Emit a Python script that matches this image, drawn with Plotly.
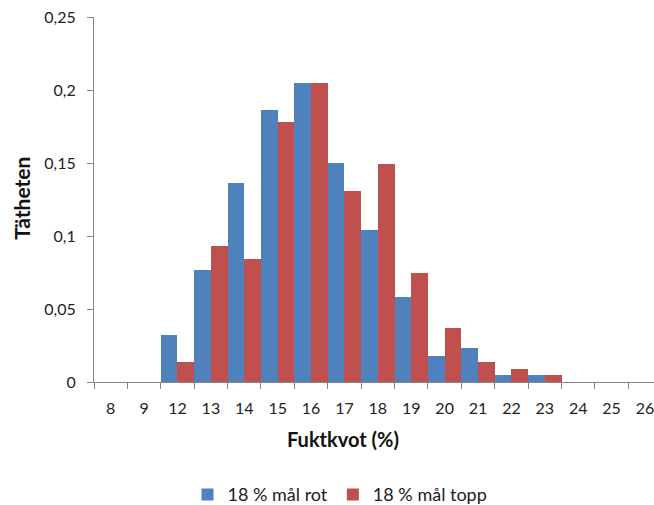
import plotly.graph_objects as go

# Moisture content classes (%) and density per class
categories = ["8", "9", "12", "13", "14", "15", "16", "17", "18",
              "19", "20", "21", "22", "23", "24", "25", "26"]
rot_values = [0, 0, 0.032, 0.077, 0.136, 0.186, 0.2045, 0.150, 0.104,
              0.058, 0.018, 0.023, 0.0045, 0.0045, 0, 0, 0]
topp_values = [0, 0, 0.014, 0.093, 0.084, 0.178, 0.205, 0.131, 0.1495,
               0.075, 0.037, 0.014, 0.009, 0.0045, 0, 0, 0]
y_ticks = [0, 0.05, 0.1, 0.15, 0.2, 0.25]
y_tick_text = ["0", "0,05", "0,1", "0,15", "0,2", "0,25"]

FONT = "Lato, 'Open Sans', sans-serif"
AXIS_GRAY = "#868686"

# Plot area in pixels: x from 94 to 654, y from 17 (0.25) to 382 (0)
PLOT_W = 560
PLOT_H = 365
Y0 = 382.3


def px_x(x):
    return (x - 94) / PLOT_W


def px_y(y):
    return (Y0 - y) / PLOT_H


fig = go.Figure()
fig.add_trace(go.Bar(x=categories, y=rot_values, name="18 % mål rot",
                     marker=dict(color="#4F81BD", line=dict(width=0))))
fig.add_trace(go.Bar(x=categories, y=topp_values, name="18 % mål topp",
                     marker=dict(color="#C0504D", line=dict(width=0))))

fig.update_layout(
    width=654, height=505,
    margin=dict(l=94, r=0, t=17, b=123, autoexpand=False),
    paper_bgcolor="white", plot_bgcolor="white",
    barmode="group", bargap=0, bargroupgap=0,
    font=dict(family=FONT, size=16, color="#222222"),
    showlegend=True,
    legend=dict(orientation="h", x=px_x(340), xanchor="center",
                y=px_y(495), yanchor="middle",
                font=dict(size=18), traceorder="normal"),
    xaxis=dict(type="category", range=[-0.5, 16.27], automargin=False,
               showline=True, linecolor=AXIS_GRAY, linewidth=1,
               ticks="outside", tickson="boundaries", ticklen=6, tickcolor=AXIS_GRAY,
               showgrid=False, zeroline=False, tickfont=dict(size=16),
               ticklabelstandoff=12, fixedrange=True),
    yaxis=dict(range=[0, 0.25], tickvals=y_ticks, ticktext=y_tick_text, automargin=False,
               showline=True, linecolor=AXIS_GRAY, linewidth=1,
               ticks="outside", ticklen=6, tickcolor=AXIS_GRAY,
               showgrid=False, zeroline=False, tickfont=dict(size=16),
               ticklabelstandoff=8),
    annotations=[
        dict(text="<b>Fuktkvot (%)</b>", xref="paper", yref="paper",
             x=px_x(343), y=px_y(439), showarrow=False,
             font=dict(size=20, color="#111111"), xanchor="center", yanchor="middle"),
        dict(text="<b>Tätheten</b>", xref="paper", yref="paper",
             x=px_x(22), y=px_y(199), showarrow=False, textangle=-90,
             font=dict(size=21, color="#111111"), xanchor="center", yanchor="middle"),
    ],
)

fig.write_html("out.html")
